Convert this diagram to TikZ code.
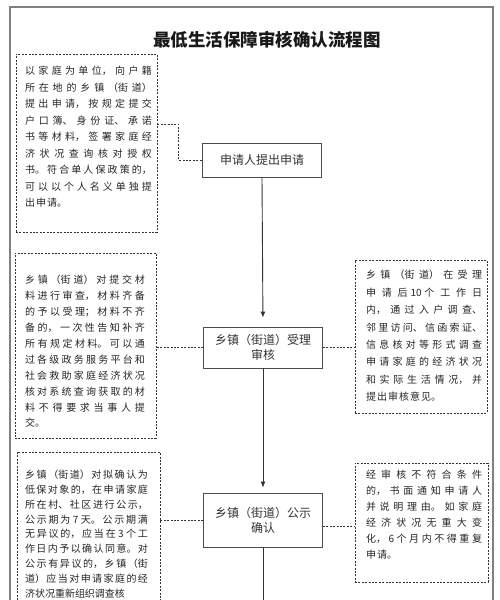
\documentclass[tikz,border=0pt]{standalone}
\usepackage{fontspec}
\setmainfont{Noto Sans CJK SC}
\XeTeXlinebreaklocale "zh"
\XeTeXlinebreakskip=1pt plus 10pt\relax
\newcommand{\nolbskip}{\XeTeXlinebreakskip=0pt\relax}
\newcommand{\tightlbskip}{\XeTeXlinebreakskip=0pt plus 10pt\relax}
\usetikzlibrary{arrows.meta}
\tikzset{
  mainbox/.style={draw=black!70, line width=0.8pt, minimum width=119pt, inner sep=0pt,
    font={\fontsize{12}{15}\selectfont\nolbskip}, text=black!80, align=center},
  dbox/.style={draw=black!80, dash pattern=on 2pt off 1.4pt, line width=0.85pt, inner sep=0pt},
  dtext/.style={inner sep=0pt, align=justify, text=black!85},
  dline/.style={draw=black!80, dash pattern=on 2pt off 1.4pt, line width=0.85pt},
  mline/.style={draw=black!80, line width=0.9pt},
  arr/.style={mline, -{Latex[length=6pt,width=5pt]}}
}
\begin{document}
\begin{tikzpicture}[x=1pt,y=-1pt]
\useasboundingbox (0,0) rectangle (500,600);
\clip (0,0) rectangle (500,600);
\fill[white] (0,0) rectangle (500,600);
\draw[black!50, line width=1.6pt] (10,7) rectangle (493,660);

\node[font={\fontsize{17.5}{20}\selectfont\bfseries\nolbskip}, text=black!90] (title) at (267,40) {最低生活保障审核确认流程图};

% main nodes
\node[mainbox, minimum height=34pt] (n1) at (262,160) {申请人提出申请};
\node[mainbox, minimum height=41pt] (n2) at (263,347.5) {乡镇（街道）受理\\审核};
\node[mainbox, minimum height=54pt] (n3) at (263,520) {乡镇（街道）公示\\确认};

% dashed boxes
\node[dbox, minimum width=141pt, minimum height=178pt] (b1) at (86.5,143) {};
\node[dtext, text width=127pt, font=\fontsize{10}{16.5}\selectfont] (b1t) at (88.5,137) {以家庭为单位，向户籍\break
所在地的乡镇（街道）\break
提出申请，按规定提交\break
户口簿、身份证、承诺\break
书等材料，签署家庭经\break
济状况查询核对授权\break
书。符合单人保政策的，\break
可以以个人名义单独提\break
出申请。};

\node[dbox, minimum width=141pt, minimum height=185pt] (b2) at (85.5,345.5) {};
\node[dtext, text width=120pt, font=\fontsize{10}{15.9}\selectfont] (b2t) at (85,351.5) {乡镇（街道）对提交材\break
料进行审查，材料齐备\break
的予以受理；材料不齐\break
备的，一次性告知补齐\break
所有规定材料。可以通\break
过各级政务服务平台和\break
社会救助家庭经济状况\break
核对系统查询获取的材\break
料不得要求当事人提\break
交。};

\node[dbox, minimum width=132pt, minimum height=153pt] (r1) at (421,336.5) {};
\node[dtext, text width=116pt, font=\fontsize{10}{17.4}\selectfont] (r1t) at (424,336) {乡镇（街道）在受理\break
申请后 10 个工作日\break
内，通过入户调查、\break
邻里访问、信函索证、\break
信息核对等形式调查\break
申请家庭的经济状况\break
和实际生活情况，并\break
提出审核意见。};

\node[dbox, minimum width=143pt, minimum height=190pt] (b3) at (88.5,547) {};
\node[dtext, text width=123pt, font={\fontsize{10}{14.8}\selectfont\tightlbskip}] (b3t) at (86.5,534) {乡镇（街道）对拟确认为\break
低保对象的，在申请家庭\break
所在村、社区进行公示，\break
公示期为 7 天。公示期满\break
无异议的，应当在 3 个工\break
作日内予以确认同意。对\break
公示有异议的，乡镇（街\break
道）应当对申请家庭的经\break
济状况重新组织调查核\parfillskip=0pt\relax};

\node[dbox, minimum width=133pt, minimum height=119pt] (r2) at (421.5,522.5) {};
\node[dtext, text width=116pt, font=\fontsize{10}{16}\selectfont] (r2t) at (424,515) {经审核不符合条件\break
的，书面通知申请人\break
并说明理由。如家庭\break
经济状况无重大变\break
化，6个月内不得重复\break
申请。};

% dashed connectors
\draw[dline] ([yshift=19pt]b1.east) -- ++(21,0) |- (n1.west);
\draw[dline] (n2.west) -- (n2.west -| b2.east);
\draw[dline] (n2.east) -- (n2.east -| r1.west);
\draw[dline] (n3.west) -- (n3.west -| b3.east);
\draw[dline] ([yshift=-6pt]n3.east) -- ([yshift=-6pt]n3.east -| r2.west);

% main flow
\draw[arr, shorten >=9pt] (n1.south) -- (n2.north);
\draw[arr, shorten >=5pt] (n2.south) -- (n3.north);
\coordinate (bend) at (263,640);
\draw[mline] (n3.south) -- (bend);
\end{tikzpicture}
\end{document}
